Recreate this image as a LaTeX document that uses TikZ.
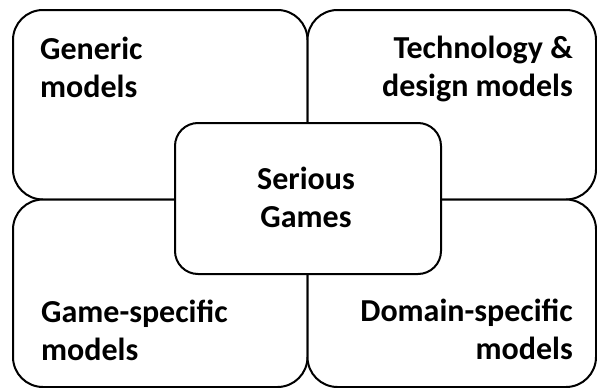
\documentclass[tikz,border=0pt]{standalone}
\usepackage{fontspec}
\setmainfont{Carlito}
\begin{document}
\begin{tikzpicture}[x=1pt,y=-1pt,
  quad/.style={draw=black, line width=2pt, fill=white, rounded corners=30pt, inner sep=0pt, anchor=north west},
  core/.style={draw=black, line width=2pt, fill=white, rounded corners=23pt, inner sep=0pt, anchor=north west},
  lbl/.style={font=\fontsize{32}{38}\selectfont\bfseries, inner sep=0pt}]
\useasboundingbox (0,0) rectangle (597,388);
\node[quad, minimum width=294.5pt, minimum height=189.5pt] (tl) at (12,9) {};
\node[quad, minimum width=288.5pt, minimum height=189.5pt] (tr) at (306.5,9) {};
\node[quad, minimum width=294.5pt, minimum height=187.5pt] (bl) at (12,198.5) {};
\node[quad, minimum width=288.5pt, minimum height=187.5pt] (br) at (306.5,198.5) {};
\node[core, minimum width=266pt, minimum height=151pt] (sg) at (174,122) {};
\node[lbl, anchor=base west, align=left] (tlt) at (40,97) {Generic\\models};
\node[lbl, anchor=base east, align=right] (trt) at (573,96) {Technology \&\\design models};
\node[lbl, anchor=base west, align=left] (blt) at (41,360) {Game-specific\\models};
\node[lbl, anchor=base east, align=right] (brt) at (573,359) {Domain-specific\\models};
\node[lbl, anchor=base, align=center] (sgt) at (306,227) {Serious\\Games};
\end{tikzpicture}
\end{document}
